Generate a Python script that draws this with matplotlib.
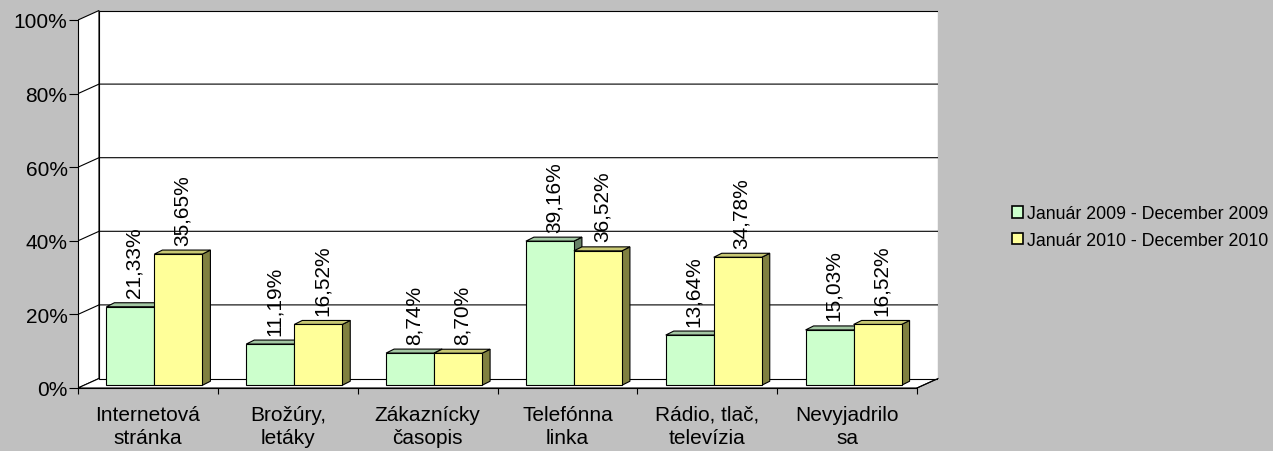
import matplotlib
matplotlib.use("Agg")
import matplotlib.pyplot as plt
from matplotlib.patches import Polygon, Rectangle

plt.rcParams['font.family'] = ['Liberation Sans', 'DejaVu Sans']

categories = ["Internetová\nstránka", "Brožúry,\nletáky", "Zákaznícky\nčasopis",
              "Telefónna\nlinka", "Rádio, tlač,\ntelevízia", "Nevyjadrilo\nsa"]
series_names = ["Január 2009 - December 2009", "Január 2010 - December 2010"]
values_2009 = [21.33, 11.19, 8.74, 39.16, 13.64, 15.03]
values_2010 = [35.65, 16.52, 8.70, 36.52, 34.78, 16.52]
yticks = [0, 20, 40, 60, 80, 100]

# colours: front, top, side
face_cols = ["#CCFFCC", "#FFFF99"]
top_cols = ["#A3C8A3", "#C8C873"]
side_cols = ["#668066", "#808040"]

W, H = 1273, 452
fig = plt.figure(figsize=(W / 100, H / 100), dpi=100, facecolor="#C0C0C0")

# axes box in pixels (front y-axis at x=78, 0% at y=389)
left_px, right_px, top_px, bot_px = 78, 938, 11, 389
ax = fig.add_axes([left_px / W, 1 - bot_px / H, (right_px - left_px) / W, (bot_px - top_px) / H])
ax.patch.set_alpha(0)

n = len(categories)
px_per_cat = (917 - 78) / n
px_per_pct = 3.68
ax.set_xlim(0, (right_px - left_px) / px_per_cat)
ax.set_ylim(0, (bot_px - top_px) / px_per_pct)

# depth of the walls and of the bars, in data units
dx, dy = 21 / px_per_cat, 9.5 / px_per_pct
bdx, bdy = 8 / px_per_cat, 4 / px_per_pct
bx, by = (dx - bdx) / 2, (dy - bdy) / 2
bw = 48 / px_per_cat

lw = 0.8
fs = 15
# walls
ax.add_patch(Polygon([(0, 0), (dx, dy), (dx, 100 + dy), (0, 100)], closed=True,
                     facecolor="white", edgecolor="black", lw=lw, zorder=1))
ax.add_patch(Polygon([(0, 0), (n, 0), (n + dx, dy), (dx, dy)], closed=True,
                     facecolor="white", edgecolor="black", lw=lw, zorder=1))
ax.add_patch(Rectangle((dx, dy), n, 100, facecolor="white", edgecolor="black", lw=lw, zorder=1))
for v in yticks[1:-1]:
    ax.plot([0, dx, n + dx], [v, v + dy, v + dy], color="black", lw=lw, zorder=1.5)

# bars
for i in range(n):
    c = i + 0.5 + bx
    for k, vals in enumerate([values_2009, values_2010]):
        v = vals[i]
        x0 = c - bw + k * bw
        x1 = x0 + bw
        ax.add_patch(Polygon([(x1, by), (x1 + bdx, by + bdy), (x1 + bdx, by + v + bdy), (x1, by + v)],
                             closed=True, facecolor=side_cols[k], edgecolor="black", lw=lw, zorder=3 + k))
        ax.add_patch(Polygon([(x0, by + v), (x1, by + v), (x1 + bdx, by + v + bdy), (x0 + bdx, by + v + bdy)],
                             closed=True, facecolor=top_cols[k], edgecolor="black", lw=lw, zorder=3 + k))
        ax.bar(x0, v, bw, bottom=by, align="edge", color=face_cols[k], edgecolor="black",
               lw=lw, zorder=3 + k)
        ax.text(x0 + bw / 2 + bdx / 2, by + v + bdy + 1.5, f"{v:.2f}%".replace(".", ","),
                rotation=90, ha="center", va="bottom", fontsize=fs, zorder=6)

# axes
for s in ["top", "right"]:
    ax.spines[s].set_visible(False)
ax.spines["left"].set_bounds(0, 100)
ax.spines["bottom"].set_bounds(0, n)
ax.spines["left"].set_linewidth(lw)
ax.spines["bottom"].set_linewidth(lw)
ax.plot([n, n + dx], [0, dy], color="black", lw=lw, zorder=2, clip_on=False)

ax.set_yticks(yticks)
ax.set_yticklabels([f"{v}%" for v in yticks])
ax.tick_params(axis="y", direction="out", length=6.5, width=lw, pad=1, labelsize=fs)
ax.set_xticks(range(n + 1))
ax.set_xticklabels([])
ax.tick_params(axis="x", which="major", direction="out", length=4.3, width=lw)
ax.set_xticks([i + 0.5 for i in range(n)], minor=True)
ax.set_xticklabels(categories, minor=True, linespacing=1.3)
ax.tick_params(axis="x", which="minor", length=0, pad=12, labelsize=fs)

handles = [Rectangle((0, 0), 1, 1, facecolor=face_cols[k], edgecolor="black", lw=1.2) for k in range(2)]
fig.legend(handles, series_names, loc="center left", bbox_to_anchor=(1012 / W, 1 - 228 / H),
           frameon=False, fontsize=12.8, handlelength=0.62, handleheight=0.62,
           handletextpad=0.2, labelspacing=0.55, borderpad=0, borderaxespad=0)

fig.savefig("out.png", dpi=100, facecolor=fig.get_facecolor())
